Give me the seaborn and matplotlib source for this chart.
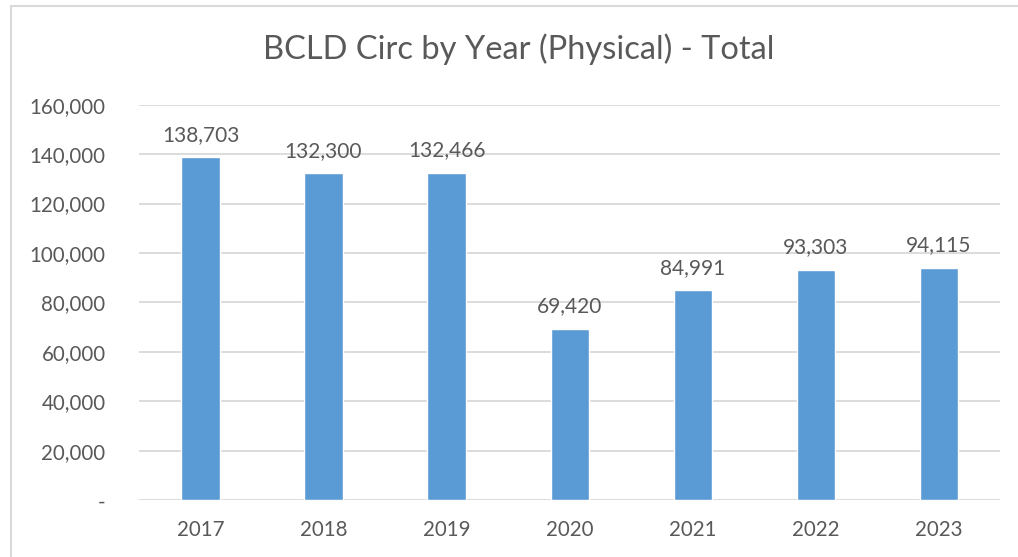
import pandas as pd
import matplotlib.pyplot as plt
import seaborn as sns
from matplotlib.ticker import FuncFormatter

# circulation totals
years = ['2017', '2018', '2019', '2020', '2021', '2022', '2023']
circ = [138703, 132300, 132466, 69420, 84991, 93303, 94115]
y_ticks = [0, 20000, 40000, 60000, 80000, 100000, 120000, 140000, 160000]

df = pd.DataFrame({'Year': years, 'Circ': circ})

sns.set_theme(style='white')
plt.rcParams['font.family'] = ['Lato', 'DejaVu Sans']
text_col = '#595959'

fig = plt.figure(figsize=(10.18, 5.57), dpi=100)
ax = fig.add_axes([0.1365, 0.102, 0.846, 0.71])

sns.barplot(data=df, x='Year', y='Circ', color='#5B9BD5', width=0.31,
            saturation=1, ax=ax, zorder=3)

ax.set_ylim(0, 160000)
ax.set_xlim(-0.5, 6.5)
ax.set_yticks(y_ticks)
ax.yaxis.set_major_formatter(FuncFormatter(lambda v, p: '-' if v == 0 else f'{v:,.0f}'))
ax.grid(axis='y', color='#D9D9D9', linewidth=1.3, zorder=0)
for s in ax.spines.values():
    s.set_visible(False)
ax.tick_params(axis='both', length=0, labelsize=14.8, colors=text_col)
ax.tick_params(axis='y', pad=24)
ax.tick_params(axis='x', pad=14)
ax.set_xlabel('')
ax.set_ylabel('')

for c in ax.containers:
    ax.bar_label(c, labels=[f'{v:,}' for v in circ], padding=9,
                 fontsize=15, color=text_col)

fig.text(0.51, 0.911, 'BCLD Circ by Year (Physical) - Total', ha='center', va='center',
         fontsize=23.5, color=text_col)

# outer chart border (left and top visible)
fig.add_artist(plt.Line2D([0.0105, 0.0105], [0, 0.989], transform=fig.transFigure,
                          color='#D9D9D9', linewidth=1.5))
fig.add_artist(plt.Line2D([0.0105, 1], [0.989, 0.989], transform=fig.transFigure,
                          color='#D9D9D9', linewidth=1.5))

fig.savefig('out.png', dpi=100, facecolor='white')
